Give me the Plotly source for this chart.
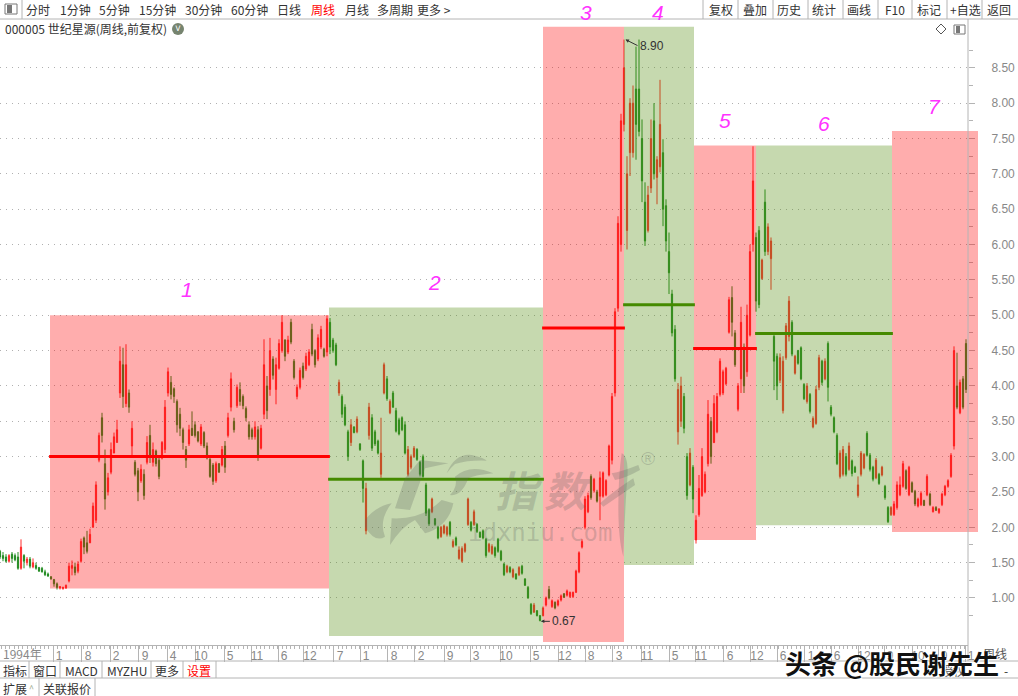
import plotly.graph_objects as go

W, H = 1018, 696
CJK = "Noto Sans CJK SC"
LAT = "Liberation Sans"

# Weekly OHLC of 000005, one sampled bar every three weeks-or-so of screen width
highs = [1.68,1.65,1.62,1.62,1.65,1.63,1.65,1.83,1.62,1.58, 1.58,1.56,1.50,1.44,1.44,1.40,1.36,1.31,1.27,1.22,
 1.17,1.16,1.19,1.50,1.53,1.50,1.52,1.84,1.87,1.95, 1.98,2.35,2.65,3.34,3.62,3.10,2.77,3.20,3.34,3.52,
 4.56,4.54,4.59,3.95,3.50,2.95,2.84,2.89,2.82,3.29, 3.45,3.20,3.10,3.00,3.22,3.80,4.26,4.14,3.98,3.81,
 3.69,3.41,3.15,3.45,3.64,3.50,3.36,3.46,3.36,3.20, 2.98,2.91,2.93,2.91,3.15,3.22,3.62,4.19,3.55,4.02,
 4.05,3.88,3.71,3.50,3.41,3.50,3.43,3.45,4.66,4.14, 4.68,4.42,4.40,4.66,5.00,4.66,4.71,4.95,4.38,4.02,
 4.26,4.33,4.47,4.52,4.88,4.52,4.73,4.85,4.54,5.00,
 4.96,4.68,4.61,4.09,3.88,3.74,3.38,3.53,3.43,3.57, 3.19,2.96,2.63,3.76,3.60,3.38,3.24,3.55,4.33,
 4.14,3.81,3.93,3.69,3.55,3.57,3.50,3.15,3.03,3.15,3.12, 2.94,3.03,2.63,2.27,2.42,2.13,2.02,2.02,2.04,2.02,
 2.09,1.83,1.87,1.73,1.73,1.78,2.42,2.09,2.25,2.06, 1.94,1.97,1.85,1.78,1.76,1.73,1.85,1.68,1.50,1.47,
 1.45,1.42,1.35,1.45,1.47,1.28,1.17,0.93,0.93,0.83,0.76,
 0.88,1.02,1.17,0.98,0.95,0.98,1.05,1.07,1.12,1.09, 1.09,1.40,1.66,1.83,2.44,2.49,2.75,2.70,2.53,2.79,2.79,2.68,3.17,3.90,5.10,6.40,7.85,8.90,
 7.25,8.07,8.25,8.80,8.90,7.77,6.88,6.83,7.77,8.00,7.25,8.33,7.49,6.64,6.17,5.36,4.86,4.04,4.13,3.90,3.05,3.12,2.88,
 2.17,2.74,3.12,2.79,3.80,3.56,3.87,3.90,4.39,4.23,4.27,5.26,5.41,4.79,4.04,5.12,4.60,5.15,6.00,7.39,
 6.17,6.26,5.80,6.78,6.30,6.10,4.75,4.46,4.46,4.42,4.89,5.27,4.93,4.44,4.51,4.56,4.04,4.04,3.90,3.57,4.00,4.44,4.37,4.39,4.63,3.73,3.57,3.33,3.09,
 3.15,3.05,3.20,2.96,2.87,2.72,3.08,3.05,3.36,3.05,2.87,2.98,2.77,2.87,2.60,2.30,2.30,
 2.37,2.65,2.72,2.94,2.82,2.87,2.65,2.53,2.42,2.51,2.39,2.75,2.49,2.30,2.30,2.27,2.49,2.60,2.68,3.05,4.56,4.47,4.09,4.14,4.66]
lows = [1.55,1.52,1.50,1.50,1.50,1.52,1.40,1.40,1.42,1.46, 1.42,1.42,1.40,1.37,1.36,1.31,1.30,1.26,1.16,1.12,
 1.12,1.12,1.13,1.22,1.32,1.32,1.35,1.50,1.62,1.63, 1.78,2.00,2.06,2.92,3.20,2.25,2.45,2.75,3.05,3.20,
 3.83,3.69,3.70,3.62,3.00,2.72,2.37,2.63,2.39,2.89, 2.91,2.86,2.86,2.68,2.96,3.05,3.85,3.81,3.76,3.34,
 3.29,3.10,2.84,3.15,3.29,3.27,3.20,3.15,3.12,2.96, 2.70,2.60,2.63,2.77,2.86,2.77,3.27,3.64,3.34,3.69,
 3.72,3.67,3.50,3.24,3.24,3.24,2.94,3.10,3.53,3.53, 3.86,4.09,3.74,4.23,4.47,4.35,4.45,4.59,4.09,3.81,
 3.95,4.09,4.21,4.28,4.42,4.26,4.35,4.52,4.40,4.42,
 4.45,4.47,4.28,3.86,3.55,3.43,2.94,3.15,3.33,3.33, 3.08,2.35,1.90,3.24,3.08,3.15,3.03,2.70,3.88,
 3.79,3.60,3.69,3.34,3.30,3.36,3.03,2.72,2.82,2.98,2.94, 2.72,2.70,2.16,2.02,2.20,2.02,1.83,1.85,1.90,1.87,
 1.87,1.71,1.73,1.54,1.50,1.64,2.02,1.94,2.02,1.92, 1.85,1.83,1.57,1.64,1.61,1.57,1.64,1.52,1.31,1.35,
 1.35,1.28,1.26,1.31,1.33,1.17,0.99,0.76,0.79,0.74,0.67,
 0.74,0.88,0.98,0.86,0.84,0.88,0.95,1.00,1.02,1.00, 1.00,1.07,1.35,1.70,1.97,2.20,2.39,2.49,2.35,2.10,2.42,2.44,2.72,2.89,3.85,5.05,5.90,7.60,
 5.93,6.97,7.23,7.20,7.53,6.60,5.98,6.17,6.73,6.92,6.57,7.02,6.26,5.90,5.30,4.70,4.06,3.17,3.42,3.33,2.39,2.58,2.20,
 1.77,2.15,2.43,2.48,2.86,2.90,3.19,3.33,3.85,3.87,4.01,4.74,4.70,4.27,3.64,3.90,3.90,4.13,4.70,5.90,
 5.05,5.10,5.50,5.84,5.85,5.36,3.94,3.80,4.04,3.61,4.37,4.63,4.42,4.16,4.30,4.08,3.80,3.75,3.61,3.40,3.45,3.94,4.01,4.08,3.78,3.57,3.33,2.88,2.69,
 2.72,2.72,2.80,2.72,2.77,2.42,2.72,2.82,3.00,2.79,2.65,2.68,2.60,2.72,2.39,2.06,2.16,
 2.16,2.25,2.44,2.56,2.53,2.44,2.49,2.30,2.28,2.30,2.30,2.44,2.30,2.21,2.23,2.19,2.30,2.44,2.56,2.70,3.10,3.67,3.60,3.67,3.90]
opens = [1.66,1.60,1.58,1.52,1.62,1.60,1.58,1.42,1.60,1.50, 1.55,1.44,1.46,1.43,1.42,1.37,1.34,1.30,1.26,1.20,
 1.14,1.13,1.14,1.24,1.42,1.44,1.38,1.52,1.85,1.78, 1.78,2.00,2.10,2.95,3.55,2.90,2.50,2.78,3.05,3.20,
 3.90,4.30,3.75,3.90,3.15,2.92,2.80,2.66,2.75,2.92, 3.30,2.92,3.08,2.95,2.98,3.10,3.90,4.05,3.96,3.78,
 3.60,3.38,3.10,3.18,3.40,3.45,3.35,3.18,3.34,3.15, 2.96,2.88,2.66,2.90,2.88,3.15,3.30,3.70,3.50,3.72,
 3.95,3.85,3.68,3.45,3.38,3.28,3.38,3.12,3.60,4.00, 3.95,4.38,3.95,4.25,4.50,4.65,4.48,4.90,4.35,3.85,
 3.98,4.28,4.24,4.30,4.80,4.50,4.38,4.55,4.52,4.48,
 4.90,4.65,4.58,3.90,3.85,3.70,3.35,3.20,3.42,3.35, 3.18,2.94,1.95,3.30,3.55,3.35,3.22,2.75,3.90,
 4.10,3.62,3.90,3.65,3.52,3.55,3.45,2.75,2.85,3.00,3.10, 2.92,3.00,2.60,2.25,2.22,2.12,2.00,1.87,1.92,1.90,
 2.07,1.73,1.85,1.56,1.52,1.66,2.04,2.07,2.04,2.04, 1.93,1.95,1.83,1.66,1.63,1.71,1.83,1.66,1.48,1.37,
 1.43,1.30,1.34,1.33,1.45,1.27,1.15,0.91,0.80,0.82,0.75,
 0.75,0.90,1.12,0.88,0.94,0.90,0.97,1.06,1.04,1.02, 1.02,1.08,1.37,1.72,2.00,2.22,2.72,2.52,2.50,2.44,2.44,2.46,2.74,2.95,3.90,5.10,6.00,7.70,
 6.20,7.30,7.30,8.20,8.20,7.50,6.60,6.20,6.80,7.75,6.95,7.10,7.30,6.55,5.90,5.30,4.80,3.35,3.50,3.85,3.00,2.60,2.85,
 1.82,2.18,2.45,2.50,2.90,3.50,3.20,3.35,3.88,3.90,4.03,4.76,5.25,4.75,3.67,4.10,4.55,4.20,4.72,6.00,
 6.10,6.20,5.52,6.60,5.90,5.80,4.70,4.42,4.08,3.65,4.40,4.70,4.90,4.18,4.50,4.54,4.02,3.78,3.88,3.42,3.47,3.98,4.35,4.10,4.60,3.70,3.55,3.30,2.72,
 2.75,3.00,2.82,2.94,2.85,2.45,2.75,2.84,3.33,3.02,2.85,2.70,2.75,2.74,2.58,2.28,2.18,
 2.18,2.28,2.46,2.58,2.80,2.46,2.63,2.51,2.30,2.32,2.38,2.46,2.47,2.22,2.28,2.21,2.32,2.46,2.58,2.72,3.15,4.00,3.62,4.10,4.60]
closes = [1.58,1.56,1.52,1.60,1.56,1.54,1.42,1.72,1.52,1.55, 1.45,1.50,1.42,1.38,1.37,1.33,1.31,1.27,1.20,1.15,
 1.16,1.15,1.18,1.45,1.46,1.36,1.48,1.80,1.72,1.66, 1.90,2.30,2.60,3.30,3.30,2.40,2.70,3.10,3.28,3.38,
 4.35,3.85,4.30,3.70,3.40,2.75,2.50,2.82,2.45,3.20, 3.00,3.10,2.90,2.72,3.20,3.70,4.20,3.88,3.85,3.45,
 3.40,3.20,2.95,3.38,3.30,3.30,3.22,3.42,3.15,2.98, 2.72,2.65,2.90,2.78,3.10,2.85,3.55,4.10,3.38,3.98,
 3.78,3.72,3.55,3.28,3.28,3.42,3.00,3.40,4.30,3.65, 4.50,4.15,4.30,4.60,4.90,4.42,4.65,4.62,4.12,3.98,
 4.22,4.12,4.42,4.48,4.45,4.30,4.68,4.80,4.42,4.95,
 4.55,4.50,4.30,4.05,3.60,3.45,3.00,3.45,3.34,3.53, 3.10,2.55,2.55,3.70,3.12,3.18,3.05,3.05,4.30,
 3.82,3.78,3.70,3.36,3.32,3.38,3.05,3.10,3.00,3.12,2.96, 2.75,2.72,2.20,2.05,2.40,2.04,1.85,2.00,2.02,2.00,
 1.90,1.80,1.75,1.68,1.70,1.76,2.40,1.96,2.22,1.94, 1.86,1.85,1.60,1.76,1.73,1.60,1.66,1.54,1.33,1.45,
 1.37,1.40,1.27,1.43,1.35,1.18,1.00,0.78,0.90,0.75,0.68,
 0.86,1.00,1.00,0.96,0.86,0.96,1.03,1.01,1.10,1.08, 1.08,1.38,1.64,1.80,2.40,2.45,2.42,2.68,2.37,2.70,2.77,2.66,3.15,3.85,5.05,6.30,7.75,8.50,
 7.00,8.00,8.00,7.70,7.60,6.90,6.05,6.70,7.50,7.00,7.20,7.70,6.50,6.05,5.60,4.75,4.10,3.95,4.00,3.40,2.45,3.05,2.40,
 2.10,2.55,3.00,2.75,3.60,3.00,3.75,3.85,4.35,4.20,4.25,5.22,4.90,4.30,4.00,4.90,4.00,5.00,5.90,6.90,
 5.20,5.15,5.78,5.90,6.25,6.05,4.35,4.00,4.40,4.35,4.85,5.20,4.45,4.42,4.32,4.10,3.82,4.00,3.64,3.54,3.95,4.40,4.05,4.35,3.98,3.60,3.35,2.90,3.05,
 3.10,2.75,3.15,2.76,2.78,2.60,3.05,3.03,3.02,2.82,2.68,2.95,2.62,2.85,2.42,2.08,2.28,
 2.33,2.60,2.60,2.90,2.55,2.85,2.50,2.33,2.40,2.48,2.31,2.72,2.32,2.28,2.24,2.26,2.47,2.58,2.66,3.02,4.50,3.70,4.05,3.70,3.95]
n = min(len(highs), len(lows), len(opens), len(closes))
bars = list(range(n))

# Regions (bar index from/to, price low/high)
region_from = [16.67, 109.67, 181.0, 208.0, 231.33, 252.0]
region_to = [109.67, 181.0, 208.0, 231.33, 252.0, 297.33]
region_low = [1.134, 0.462, 0.377, 1.467, 1.82, 2.03]
region_high = [5.0, 5.11, 9.08, 9.08, 7.4, 7.4]
region_kind = ["up", "down", "up", "down", "up", "down"]
region_avg = [3.0, 2.68, 4.82, 5.15, 4.53, 4.74]

y_ticks = [1.0,1.5,2.0,2.5,3.0,3.5,4.0,4.5,5.0,5.5,6.0,6.5,7.0,7.5,8.0,8.5]
y_minor = [0.75,1.25,1.75,2.25,2.75,3.25,3.75,4.25,4.75,5.25,5.75,6.25,6.75,7.25,7.75,8.25,8.75]
x_tick_bars = [17.67,27.33,36.67,46.33,55.67,65,74.67,83.67,92.67,101.33,111.33,120,129.33,138.33,148,156.67,166.67,
 176.67,186.33,195,204.33,213.67,223,231.67,241.33,250.33,259,268.33,277,286,294.67,304,312.67,321.67]
x_tick_text = ["1","8","2","9","4","10","5","11","6","12","7","1","8","2","9","3","10",
 "5","12","8","3","11","5","11","6","12","6","1","6","12","9","10","9","1"]

left_menu = ["分时","1分钟","5分钟","15分钟","30分钟","60分钟","日线","周线","月线","多周期","更多 >"]
right_menu = ["复权","叠加","历史","统计","画线","F10","标记","+自选","返回"]
bottom_menu = ["指标","窗口","MACD","MYZHU","更多","设置"]
bottom_menu2 = ["扩展","关联报价"]
numbers = ["1","2","3","4","5","6","7"]


def px(x):
    return x / W


def py(y):
    return 1 - y / H


fig = go.Figure(go.Candlestick(
    x=bars, open=opens[:n], high=highs[:n], low=lows[:n], close=closes[:n],
    increasing=dict(line=dict(color="rgb(255,45,45)", width=1), fillcolor="rgb(255,45,45)"),
    decreasing=dict(line=dict(color="rgb(35,140,35)", width=1), fillcolor="rgb(35,140,35)"),
    hoverinfo="skip", showlegend=False))

shapes, ann = [], []


def line(x0, y0, x1, y1, color="#b4b4b4", width=1):
    shapes.append(dict(type="line", xref="paper", yref="paper", x0=px(x0), x1=px(x1), y0=py(y0), y1=py(y1),
                       line=dict(color=color, width=width), layer="above"))


def text(s, x, y, size=12, color="#333", anchor="center", family=CJK, **kw):
    ann.append(dict(text=s, x=px(x), y=py(y), xref="paper", yref="paper", showarrow=False, xanchor=anchor,
                    yanchor="middle", font=dict(size=size, color=color, family=family, **kw.pop("font", {})), **kw))


OVER = {"up": "rgba(255,0,0,0.32)", "down": "rgba(82,140,12,0.33)"}
AVG = {"up": "#ff0000", "down": "#458a00"}
for a, b, lo, hi, k, m in zip(region_from, region_to, region_low, region_high, region_kind, region_avg):
    shapes.append(dict(type="rect", xref="x", yref="y", x0=a, x1=b, y0=lo, y1=hi,
                       fillcolor=OVER[k], line=dict(width=0), layer="above"))
# seventh box runs past the price axis
shapes.append(dict(type="rect", xref="paper", yref="paper", x0=px(892), x1=px(978), y0=py(532), y1=py(131),
                   fillcolor=OVER["up"], line=dict(width=0), layer="above"))
for a, b, k, m in zip(region_from, region_to, region_kind, region_avg):
    shapes.append(dict(type="line", xref="x", yref="y", x0=a - 0.3, x1=b + 0.3, y0=m, y1=m,
                       line=dict(color=AVG[k], width=3), layer="above"))

# chrome lines
line(0, 19, W, 19); line(22, 0, 22, 19)
for s in [703, 738, 773, 808, 843, 878, 912, 947, 982]:
    line(s, 0, s, 19)
line(968, 19, 968, 661)
line(0, 661, W, 661); line(0, 678, W, 678)
for s in [29, 60, 102, 151, 183, 216]:
    line(s, 661, s, 678)
for s in [39, 95]:
    line(s, 678, s, 696)

# toolbar
for s, x in zip(left_menu, [38, 75, 114, 157, 203, 249, 289, 323, 357, 395, 434]):
    text(s, x, 9, color="#ff0000" if s == "周线" else "#333")
for s, x in zip(right_menu, [721, 755, 789, 824, 859, 895, 929, 965, 999]):
    text(s, x, 9)
shapes.append(dict(type="rect", xref="paper", yref="paper", x0=px(5), x1=px(17), y0=py(14), y1=py(4),
                   line=dict(color="#777", width=1), fillcolor="#fff", layer="above"))
shapes.append(dict(type="rect", xref="paper", yref="paper", x0=px(7), x1=px(12), y0=py(13), y1=py(5),
                   line=dict(width=0), fillcolor="#777", layer="above"))
text("000005 世纪星源(周线,前复权)", 3, 29, anchor="left")
shapes.append(dict(type="circle", xref="paper", yref="paper", x0=px(172), x1=px(184), y0=py(35), y1=py(23),
                   line=dict(width=0), fillcolor="#76846f", layer="above"))
text("˅", 178, 29, size=10, color="#fff", family=LAT)
shapes.append(dict(type="path", xref="paper", yref="paper", layer="above", line=dict(color="#555", width=1),
                   path=f"M {px(941)} {py(24)} L {px(946)} {py(29)} L {px(941)} {py(34)} L {px(936)} {py(29)} Z"))
shapes.append(dict(type="rect", xref="paper", yref="paper", x0=px(954), x1=px(965), y0=py(34), y1=py(25),
                   line=dict(color="#777", width=1), fillcolor="#fff", layer="above"))
shapes.append(dict(type="rect", xref="paper", yref="paper", x0=px(956), x1=px(960), y0=py(33), y1=py(26),
                   line=dict(width=0), fillcolor="#777", layer="above"))

# bottom rows
text("1994年", 1, 653, color="#888", anchor="left")
text("周线", 995, 653, color="#555")
text("授权", 953, 670, color="#555")
text("-", 1006, 670, color="#333")
for s, x in zip(bottom_menu, [15, 45, 81, 127, 167, 199]):
    text(s, x, 670, color="#ff0000" if s == "设置" else "#333")
text("扩展", 15, 688); text("^", 32, 688, size=9, color="#9aa88a")
text("关联报价", 67, 688)

# handwritten numbers
for s, x, y in zip(numbers, [187, 434, 586, 658, 725, 824, 934], [289, 282, 13, 13, 120, 123, 106]):
    text(s, x, y, size=21, color="#ff33ff", family=LAT, font=dict(style="italic"))

# price callouts
for v, b, ax, ay in [(0.67, 180.3, 9, 0), (8.90, 208.5, 12, 6)]:
    ann.append(dict(text=f"{v:.2f}", x=b, y=v, xref="x", yref="y", ax=ax, ay=ay, axref="pixel", ayref="pixel",
                    showarrow=True, arrowhead=2, arrowsize=0.7, arrowwidth=1, arrowcolor="#333",
                    standoff=0, font=dict(size=12, color="#333", family=LAT), xanchor="left"))

# site watermark (logo strokes and calligraphic name)
GREY = "rgba(95,100,95,0.26)"
strokes = [
    "M 275 100 Q 300 40 350 45 Q 390 55 395 62 Q 340 60 300 72 Q 285 85 275 100 Z",
    "M 300 110 Q 345 70 415 100 Q 360 105 340 115 Q 320 170 285 165 Q 310 140 300 110 Z",
    "M 150 115 L 195 60 L 280 70 L 210 85 L 165 210 L 120 205 Z",
    "M 30 240 Q 60 200 110 190 Q 70 240 90 290 Q 60 310 30 260 Z",
    "M 110 235 Q 200 240 260 180 L 295 190 Q 280 260 210 280 L 180 240 Q 140 260 105 315 Z",
    "M 800 40 Q 825 50 815 140 Q 808 250 805 350 Q 790 300 790 200 Q 790 110 800 40 Z",
    "M 770 100 Q 800 95 850 75 L 855 90 Q 810 115 780 120 Z",
    "M 735 190 Q 780 150 835 115 L 840 135 Q 790 170 745 200 Z",
]
for d in strokes:
    out, is_x = [], True
    for p in d.split():
        if p in "MQLZ":
            out.append(p); is_x = True
        else:
            v = float(p)
            out.append(str(px(355 + v / 3)) if is_x else str(py(440 + v / 3)))
            is_x = not is_x
    shapes.append(dict(type="path", xref="paper", yref="paper", path=" ".join(out), fillcolor=GREY,
                       line=dict(width=0), layer="above"))
text("指", 519, 488, size=42, color=GREY, font=dict(style="italic", weight="bold"))
text("数", 568, 488, size=42, color=GREY, font=dict(style="italic", weight="bold"))
text("idxniu.com", 540, 533, size=24, color=GREY, family="DejaVu Sans Mono")
text("®", 648, 459, size=19, color=GREY, family=LAT)

# publisher stamp
text("头条 @股民谢先生", 892, 662, size=26, color="#111", font=dict(weight="bold", shadow="1px 1px 0 #fff"))

fig.update_layout(
    width=W, height=H, autosize=False, margin=dict(l=0, r=0, t=0, b=0),
    paper_bgcolor="white", plot_bgcolor="white", showlegend=False,
    boxgap=0.45,
    shapes=shapes, annotations=ann,
    font=dict(family=LAT),
    xaxis=dict(domain=[0, 968 / W], range=[0, 968 / 3], rangeslider=dict(visible=False), showgrid=False,
               automargin=False, tickmode="array", tickvals=x_tick_bars, ticktext=x_tick_text,
               ticks="outside", ticklen=16,
               tickcolor="#b4b4b4", tickwidth=1, showline=True, linecolor="#b4b4b4", zeroline=False,
               tickfont=dict(size=12, color="#888", family=LAT), ticklabelstandoff=-16, ticklabelshift=6,
               minor=dict(ticks="outside", ticklen=3, tickcolor="#b4b4b4", dtick=1.44, tick0=0.4, showgrid=False)),
    yaxis=dict(domain=[py(645), py(24)], range=[0.335, 9.12], side="right", tickmode="array", automargin=False,
               tickvals=y_ticks, ticktext=[f"{v:.2f}" for v in y_ticks], showgrid=True,
               gridcolor="#b0b0b0", griddash="1px,5px", gridwidth=1, zeroline=False, showline=False,
               ticks="outside", ticklen=6, tickcolor="#b4b4b4", ticklabelstandoff=14,
               tickfont=dict(size=12, color="#888", family=LAT),
               minor=dict(ticks="outside", ticklen=4, tickcolor="#b4b4b4", tickvals=y_minor, showgrid=False)),
)
fig.write_html("out.html", config=dict(displayModeBar=False),
               post_script="document.body.style.margin='0';document.body.style.overflow='hidden';")
